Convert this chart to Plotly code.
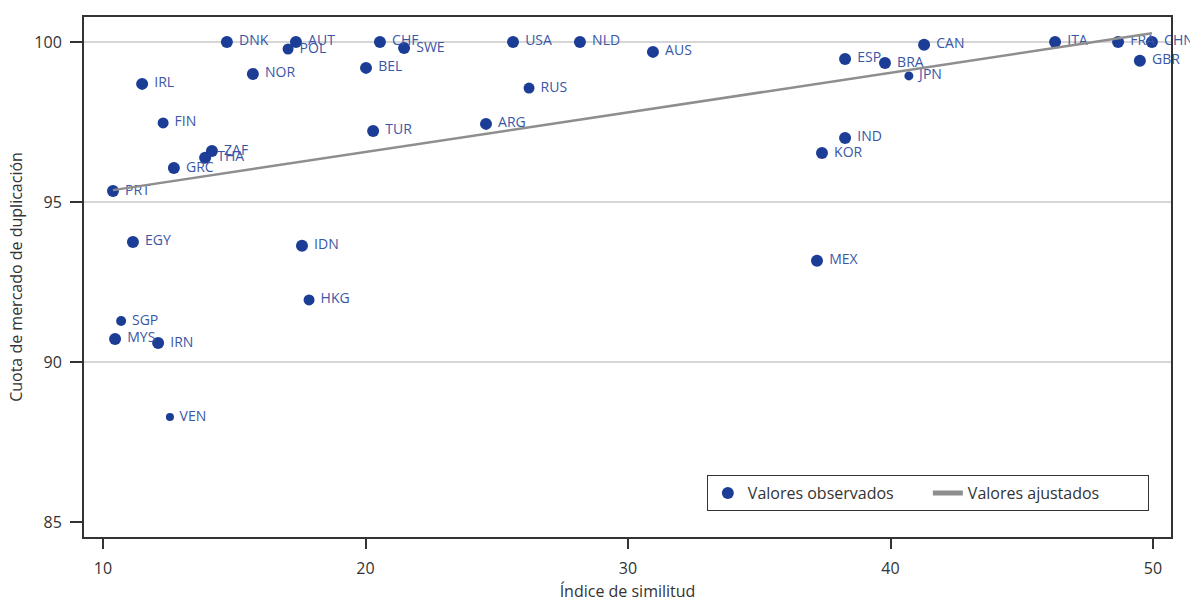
import plotly.graph_objects as go

paises = ["PRT", "DNK", "AUT", "POL", "CHF", "SWE", "NOR", "BEL", "IRL", "FIN",
          "TUR", "ZAF", "THA", "GRC", "USA", "NLD", "AUS", "RUS", "ARG", "ESP",
          "BRA", "CAN", "JPN", "ITA", "FRA", "CHN", "GBR", "IND", "KOR", "EGY",
          "IDN", "HKG", "SGP", "MYS", "IRN", "VEN", "MEX"]
similitud = [10.38, 14.72, 17.35, 17.05, 20.55, 21.47, 15.71, 20.02, 11.49, 12.29,
             20.29, 14.15, 13.89, 12.70, 25.62, 28.17, 30.95, 26.23, 24.59, 38.27,
             39.79, 41.28, 40.70, 46.27, 48.67, 49.96, 49.50, 38.27, 37.39, 11.14,
             17.58, 17.85, 10.69, 10.46, 12.10, 12.55, 37.20]
cuota = [95.34, 100.0, 100.0, 99.78, 100.0, 99.81, 99.00, 99.19, 98.69, 97.47,
         97.22, 96.59, 96.38, 96.06, 100.0, 100.0, 99.69, 98.56, 97.44, 99.47,
         99.34, 99.91, 98.94, 100.0, 100.0, 100.0, 99.41, 97.00, 96.53, 93.75,
         93.63, 91.94, 91.28, 90.72, 90.59, 88.28, 93.16]
tamano = [12, 12, 12, 11, 12, 12, 12, 12, 12, 11,
          12, 12, 12, 12, 12, 12, 12, 11, 12, 12,
          12, 12, 9, 12, 12, 12, 12, 12, 12, 12,
          12, 11, 10, 12, 12, 8, 12]

ajuste_x = [10.38, 49.96]
ajuste_y = [95.37, 100.27]

x_ticks = [10, 20, 30, 40, 50]
y_ticks = [85, 90, 95, 100]
y_grid = [90, 95, 100]

fig = go.Figure()
fig.add_trace(go.Scatter(
    x=similitud, y=cuota, mode="markers+text", text=paises,
    texttemplate=" %{text}",
    textposition="middle right",
    textfont=dict(family="Open Sans", size=14, color="#3a56a6"),
    marker=dict(color="#1c3d96", size=tamano, opacity=1, line=dict(width=0)),
    name="Valores observados", cliponaxis=False,
))
fig.add_trace(go.Scatter(
    x=ajuste_x, y=ajuste_y, mode="lines",
    line=dict(color="#8e8e8e", width=2.5),
    name="Valores ajustados",
))

for g in y_grid:
    fig.add_shape(type="line", xref="paper", x0=0, x1=1, yref="y", y0=g, y1=g,
                  line=dict(color="#c8c8c8", width=1.5), layer="below")

fig.update_layout(
    width=1190, height=602,
    margin=dict(l=84, r=19, t=17, b=65, autoexpand=False),
    paper_bgcolor="white", plot_bgcolor="white",
    font=dict(family="Open Sans", size=16, color="#333333"),
    showlegend=True,
    legend=dict(
        orientation="h", x=0.573, y=0.119, xanchor="left", yanchor="top",
        bordercolor="#333333", borderwidth=1, bgcolor="white",
        font=dict(family="Open Sans", size=16, color="#333333"),
        itemsizing="constant", entrywidth=175,
    ),
    xaxis=dict(
        range=[9.276, 50.686], tickvals=x_ticks, showgrid=False, zeroline=False,
        showline=True, linecolor="#333333", linewidth=2, mirror=True,
        ticks="outside", ticklen=10, tickcolor="#333333", tickwidth=1.5,
        ticklabelstandoff=6,
        automargin=False,
        title=dict(text="Índice de similitud", standoff=14,
                   font=dict(size=16, color="#333333")),
        tickfont=dict(size=16, color="#333333"),
    ),
    yaxis=dict(
        range=[84.53, 100.78], tickvals=y_ticks, showgrid=False, zeroline=False,
        showline=True, linecolor="#333333", linewidth=2, mirror=True,
        ticks="outside", ticklen=12, tickcolor="#333333", tickwidth=1.5,
        ticklabelstandoff=5,
        automargin=False,
        title=dict(text="Cuota de mercado de duplicación", standoff=8,
                   font=dict(size=16, color="#333333")),
        tickfont=dict(size=16, color="#333333"),
    ),
)

fig.write_html("out.html", config={"displayModeBar": False},
               post_script="document.body.style.margin='0';")
